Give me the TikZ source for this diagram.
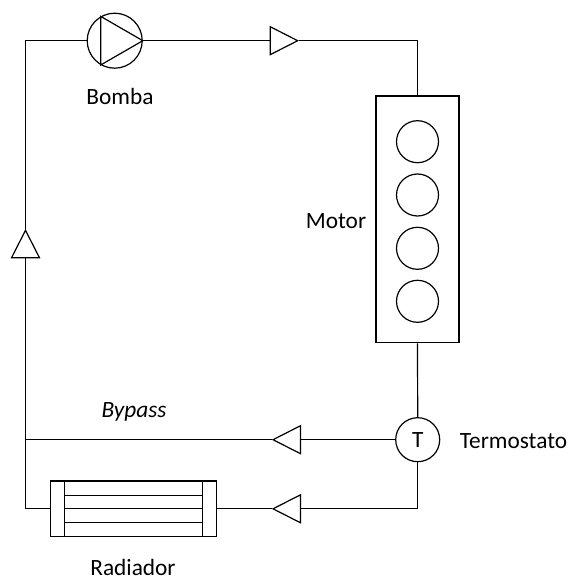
\documentclass[tikz,border=0pt]{standalone}
\usepackage{fontspec}
\setmainfont{Carlito}
\usetikzlibrary{positioning,calc,shapes.geometric}

\begin{document}
\begin{tikzpicture}[
    x=0.75pt, y=-0.75pt,
    line width=0.9pt,
    valve/.style={draw, isosceles triangle, isosceles triangle apex angle=54, isosceles triangle stretches, inner sep=0pt, minimum width=28*0.75pt, minimum height=27.5*0.75pt, anchor=apex},
    ring/.style={draw, circle, inner sep=0pt, minimum size=#1*1.5pt},
    label/.style={inner sep=0pt, font=\fontsize{17.5pt}{20pt}\selectfont}
]
\useasboundingbox (0,0) rectangle (570,577);

% bomba
\node[ring=27.5] (bomba) at (114.7,40.7) {};
\draw (bomba.120) -- (bomba.-120) -- (bomba.0) -- cycle;
\node[label] (bombatxt) at (120,96) {Bomba};

% motor
\node[draw, rectangle, inner sep=0pt, minimum width=83*0.75pt, minimum height=246.7*0.75pt] (motor) at (417.5,219.4) {};
\foreach \y/\n in {141.7/1,195/2,248.3/3,301.3/4} {
    \node[ring=21] (cil\n) at (417.5,\y) {};
}
\node[label] (motortxt) at (336,221) {Motor};

% termostato
\node[ring=22, label] (termo) at (417.7,439.7) {T};
\node[label] (termotxt) at (513.5,441) {Termostato};

% radiador
\node[draw, rectangle, inner sep=0pt, minimum width=166*0.75pt, minimum height=55.7*0.75pt] (radiador) at (133.3,508.8) {};
\foreach \x in {64.3,202.3} {
    \draw (\x,481) -- (\x,536.7);
}
\foreach \y in {495.4,508.8,522.7} {
    \draw (64.3,\y) -- (202.3,\y);
}
\node[label] (radtxt) at (133,567.5) {Radiador};

% valvulas
\node[valve] (vtop) at (299,40.7) {};
\node[valve, shape border rotate=90] (vleft) at (25.5,229) {};
\node[valve, shape border rotate=180] (vbypass) at (271.7,439.7) {};
\node[valve, shape border rotate=180] (vrad) at (271.7,508.8) {};
\node[label, font=\fontsize{17.5pt}{20pt}\selectfont\itshape] (bypasstxt) at (134,412) {Bypass};

% tuberias
\coordinate (junta) at (25.5,439.7);
\draw (bomba.east) -- (vtop.lower side);
\draw (vtop.apex) -| (motor.north);
\draw (motor.south) -- (termo.north);
\draw (termo.west) -- (vbypass.lower side);
\draw (vbypass.apex) -- (junta);
\draw (termo.south) |- (vrad.lower side);
\draw (vrad.apex) -- (radiador.east);
\draw (radiador.west) -| (vleft.lower side);
\draw (vleft.apex) |- (bomba.west);

\end{tikzpicture}
\end{document}
